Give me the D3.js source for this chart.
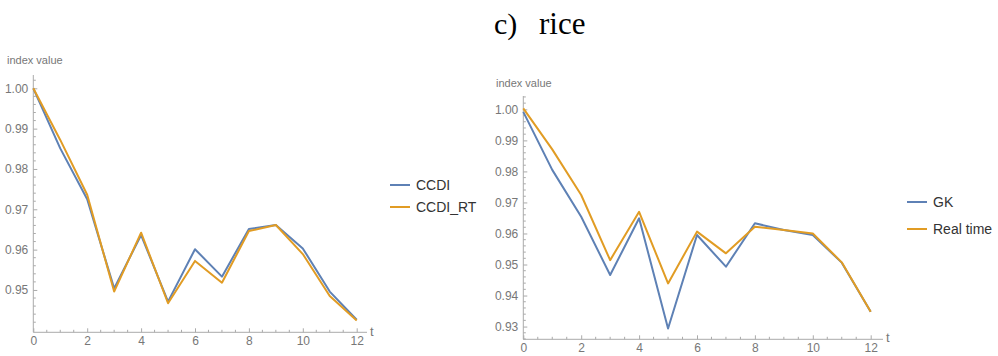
<!DOCTYPE html>
<html><head><meta charset="utf-8">
<script src="https://cdnjs.cloudflare.com/ajax/libs/d3/7.8.5/d3.min.js"></script>
<style>body{margin:0;background:#fff}svg{display:block}</style>
</head><body>
<script>
const t = [0,1,2,3,4,5,6,7,8,9,10,11,12];
const ccdi    = [1.000,0.9851,0.9725,0.9504,0.9636,0.9471,0.9601,0.9533,0.9651,0.9661,0.9603,0.9496,0.9426];
const ccdiRT  = [1.000,0.9872,0.9736,0.9496,0.9642,0.9467,0.9572,0.9518,0.9646,0.9661,0.9589,0.9485,0.9424];
const gk      = [0.9992,0.9805,0.9654,0.9466,0.9649,0.9294,0.9595,0.9493,0.9633,0.9611,0.9595,0.9506,0.9348];
const realT   = [1.0003,0.9871,0.9724,0.9514,0.9670,0.9439,0.9606,0.9536,0.9622,0.9611,0.9600,0.9507,0.9348];
const xTicks = [0,2,4,6,8,10,12];
const yTicksL = [0.95,0.96,0.97,0.98,0.99,1.00];
const yTicksR = [0.93,0.94,0.95,0.96,0.97,0.98,0.99,1.00];
const legendL = ["CCDI","CCDI_RT"];
const legendR = ["GK","Real time"];
const titleA = "c)", titleB = "rice";

const BLUE = "#5e81b5", ORANGE = "#e19c24";
const svg = d3.select("body").append("svg").attr("width",998).attr("height",356);

svg.append("text").attr("x",494).attr("y",34).attr("font-family","Liberation Serif")
  .attr("font-size",30).attr("fill","#000").text(titleA);
svg.append("text").attr("x",539).attr("y",34).attr("font-family","Liberation Serif")
  .attr("font-size",31).attr("fill","#000").text(titleB);

function panel(cfg){
  const x = d3.scaleLinear().domain([0,12]).range(cfg.xr);
  const y = d3.scaleLinear().domain(cfg.yd).range(cfg.yr);
  const g = svg.append("g");
  const xMinor = d3.range(0,12.01,0.5).filter(v=>v%2!==0);
  const yMinor = d3.range(Math.ceil(cfg.yd[0]/0.002)*0.002, cfg.yd[1], 0.002)
      .filter(v=>Math.abs(Math.round(v*100)-v*100)>1e-6);
  g.selectAll(".xm").data(xMinor).join("line")
    .attr("x1",d=>x(d)).attr("x2",d=>x(d)).attr("y1",cfg.yr[0]).attr("y2",cfg.yr[0]-2.5)
    .attr("stroke","#aaa").attr("stroke-width",1);
  g.selectAll(".ym").data(yMinor).join("line")
    .attr("y1",d=>y(d)).attr("y2",d=>y(d)).attr("x1",cfg.xr[0]).attr("x2",cfg.xr[0]+2.5)
    .attr("stroke","#aaa").attr("stroke-width",1);
  const xa = g.append("g").attr("transform",`translate(0,${cfg.yr[0]})`)
    .call(d3.axisBottom(x).tickValues(xTicks).tickFormat(d3.format("d")).tickSize(-4).tickPadding(4).tickSizeOuter(0));
  xa.select(".domain").attr("d",`M${cfg.xr[0]},0H${cfg.xEnd}`);
  const ya = g.append("g").attr("transform",`translate(${cfg.xr[0]},0)`)
    .call(d3.axisLeft(y).tickValues(cfg.yt).tickFormat(d3.format(".2f")).tickSize(-4).tickPadding(5).tickSizeOuter(0));
  ya.select(".domain").attr("d",`M0,${cfg.yTop}V${cfg.yr[0]}`);
  [xa,ya].forEach(a=>{
    a.selectAll(".domain,.tick line").attr("stroke","#aaa");
    a.selectAll("text").attr("fill","#777").attr("font-family","Liberation Sans").attr("font-size",12);
  });
  g.append("text").attr("x",cfg.lab[0]).attr("y",cfg.lab[1]).attr("fill","#777")
    .attr("font-family","Liberation Sans").attr("font-size",11).attr("dy","0.35em").text("index value");
  g.append("text").attr("x",cfg.tl[0]).attr("y",cfg.tl[1]).attr("fill","#777")
    .attr("font-family","Liberation Sans").attr("font-size",13).attr("dy","0.35em").text("t");
  const line = d3.line().x((d,i)=>x(t[i])).y(d=>y(d));
  cfg.series.forEach((s,k)=>{
    g.append("path").datum(s).attr("d",line).attr("fill","none")
      .attr("stroke",k?ORANGE:BLUE).attr("stroke-width",2).attr("stroke-linejoin","round");
  });
  cfg.leg.forEach((name,k)=>{
    const ly = cfg.legY[k];
    g.append("line").attr("x1",cfg.legX).attr("x2",cfg.legX+20).attr("y1",ly).attr("y2",ly)
      .attr("stroke",k?ORANGE:BLUE).attr("stroke-width",2);
    g.append("text").attr("x",cfg.legX+26).attr("y",ly).attr("dy","0.35em")
      .attr("font-family","Liberation Sans").attr("font-size",14).attr("fill","#333").text(name);
  });
}

panel({xr:[33.3,356.7], xEnd:367, yd:[0.9395,1.0033], yr:[332.3,75], yTop:75, yt:yTicksL,
  lab:[7,60], tl:[370,331], series:[ccdi,ccdiRT], leg:legendL, legX:390, legY:[185,207]});
panel({xr:[523.3,870.7], xEnd:883, yd:[0.9259,1.0043], yr:[339.3,96], yTop:96, yt:yTicksR,
  lab:[496,83], tl:[886,337], series:[gk,realT], leg:legendR, legX:907, legY:[202,229]});
</script>
</body></html>
